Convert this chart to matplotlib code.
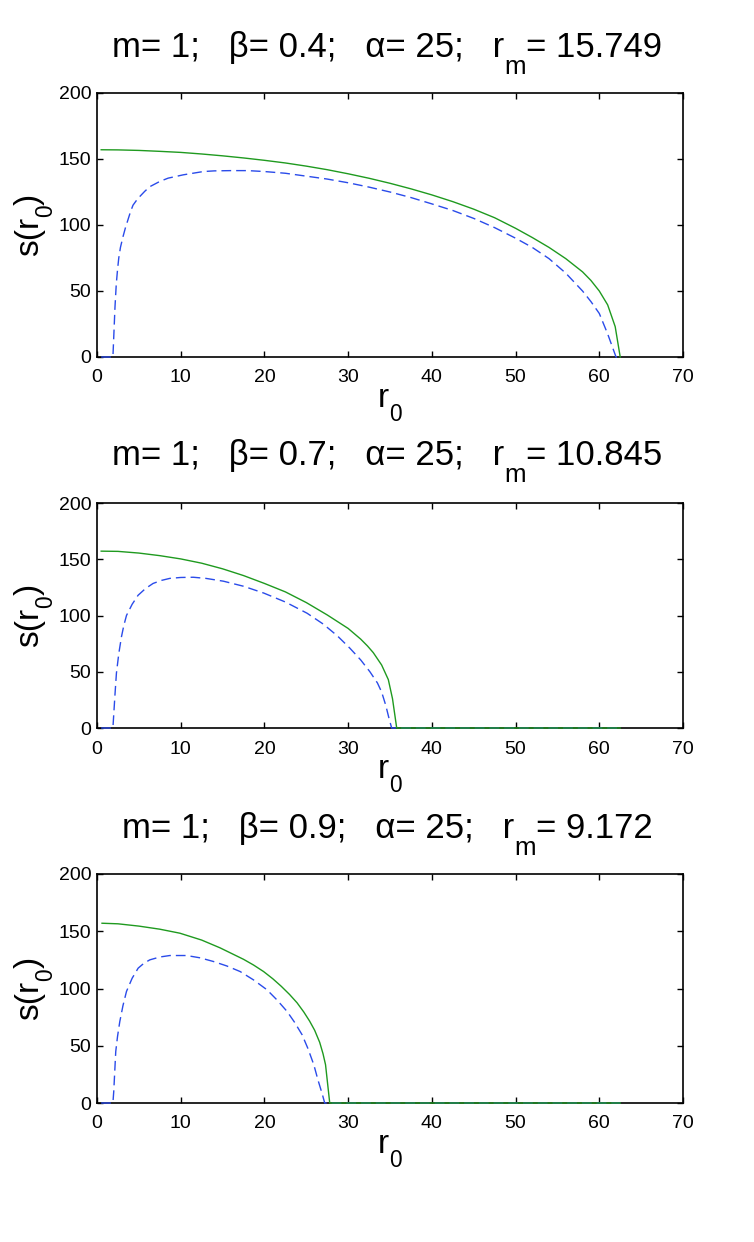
import numpy as np
import matplotlib
matplotlib.use('Agg')
import matplotlib.pyplot as plt

plt.rcParams['font.family'] = ['Liberation Sans', 'DejaVu Sans']

# ---- data ----
betas = [0.4, 0.7, 0.9]
r_m = ['15.749', '10.845', '9.172']

# beta = 0.4
r_g1 = [0.5, 2.5, 5, 7.5, 10, 12.5, 15, 17.5, 20, 22.5, 25, 27.5, 30, 32.5, 35, 37.5, 40, 42.5,
        45, 47.5, 50, 52, 54, 56, 58, 59, 60, 61, 61.9, 62.5]
s_g1 = [157, 156.9, 156.5, 155.8, 155, 153.8, 152.4, 150.8, 149, 147, 144.6, 141.9, 138.8, 135.4,
        131.6, 127.4, 122.8, 117.7, 112, 105.5, 97.5, 90.5, 83, 74.5, 64.5, 58, 50, 39.5, 23, 0]
r_b1 = [0.5, 1.9, 2.0, 2.15, 2.3, 2.45, 2.6, 2.8, 3.1, 3.4, 3.7, 4.0, 4.3, 4.7, 5.1, 5.7, 6.3, 6.9,
        7.5, 8.5, 10.3, 12.7, 14, 16, 18, 20, 22.5, 25, 27.5, 30, 32.5, 35, 37.5, 40, 42.5, 45,
        47.5, 50, 52, 54, 56, 58, 59, 60, 61, 61.6, 62, 62.5]
s_b1 = [0, 0, 15, 38, 55, 66, 75, 83, 91, 98, 104, 110, 115, 118.5, 121.5, 125.5, 129, 131,
        133, 135.5, 138, 140.5, 141, 141.2, 141.2, 140.5, 139.2, 137, 134.8, 132, 128.7, 125,
        120.8, 116, 111, 105, 98, 90, 83, 74.5, 63.5, 50, 42, 33, 17.5, 7, 0, 0]

# beta = 0.7
r_g2 = [0.5, 2.5, 5, 7.5, 10, 12.5, 15, 17.5, 20, 22.5, 25, 27.5, 30, 31.5, 32.3, 33, 34, 34.8,
        35.3, 35.8, 62.5]
s_g2 = [157.2, 157, 155.5, 153.2, 150.3, 146.5, 141.5, 135.5, 128.5, 121, 111.5, 100.5, 88.5,
        79, 73, 67, 56, 43, 26, 0, 0]
r_b2 = [0.5, 1.9, 2.0, 2.15, 2.32, 2.6, 2.92, 3.2, 3.52, 4.2, 4.91, 5.8, 6.7, 7.7, 8.7, 10,
        11.5, 13, 15.1, 17.5, 19.9, 22.5, 25.1, 27, 28.7, 30.2, 31.5, 32.6, 33.5, 34, 34.5,
        34.9, 35.2, 62.5]
s_b2 = [0, 0, 12, 30, 48.7, 66, 81, 91, 100, 110, 118, 124, 128.5, 131.2, 133, 133.8,
        134, 133, 130.5, 126, 120, 112, 102, 92.5, 82, 71, 60.5, 50, 40, 32, 20,
        8, 0, 0]

# beta = 0.9
r_g3 = [0.6, 2.5, 5, 7.5, 9.9, 12.5, 14.7, 17.5, 18.7, 19.9, 21, 22, 23, 23.9, 24.7, 25.4, 26,
        26.6, 27, 27.3, 27.8, 62.5]
s_g3 = [157, 156.5, 154.5, 151.8, 148.3, 142.3, 135.5, 125.5, 120.5, 114.8, 108.5, 102, 94.8,
        87.5, 79.5, 71.5, 63.5, 53, 43, 33.4, 0, 0]
r_b3 = [0.5, 1.9, 2.0, 2.24, 2.45, 2.72, 3.1, 3.52, 4.2, 4.92, 5.6, 6.3, 7.5, 8.7, 10.7, 12.3,
        13.9, 15.5, 17.1, 18.7, 20.3, 21.5, 22.7, 23.6, 24.5, 25.2, 25.9, 26.4, 26.9, 27.2, 62.5]
s_b3 = [0, 0, 10, 45, 58, 71, 85, 97.4, 109, 117.8, 122, 125, 127.5, 128.8, 128.8, 126.8,
        123.6, 119.7, 114.8, 107.5, 98.9, 90, 80, 70.5, 59.6, 47.5, 33.4, 20, 8, 0, 0]

green_r = [r_g1, r_g2, r_g3]
green_s = [s_g1, s_g2, s_g3]
blue_r = [r_b1, r_b2, r_b3]
blue_s = [s_b1, s_b2, s_b3]

xticks = [0, 10, 20, 30, 40, 50, 60, 70]
yticks = [0, 50, 100, 150, 200]

W, H = 754, 1242
fig = plt.figure(figsize=(W / 100, H / 100), dpi=100)

# axes boxes in pixels: left, top, right, bottom
boxes = [(97, 93, 683, 357), (97, 503, 683, 728), (97, 874, 683, 1103)]
title_base = [57, 465, 838]

GREEN = '#1f9a1f'
BLUE = '#2a4bea'
TSIZE = 25
LSIZE = 24


def pieces_text(x, y, pieces, rotation=0):
    # pieces: (string, size, drop in px); y is measured from the top when rotation == 0
    r = fig.canvas.get_renderer()
    widths = []
    for s, sz, d in pieces:
        t = fig.text(0, 0, s, fontsize=sz)
        widths.append(t.get_window_extent(r).width)
        t.remove()
    pos = (x if rotation == 0 else y) - sum(widths) / 2
    for (s, sz, d), w in zip(pieces, widths):
        if rotation == 0:
            fx, fy = pos / W, 1 - (y + d) / H
        else:
            fx, fy = (x + d) / W, pos / H
        fig.text(fx, fy, s, fontsize=sz, ha='left', va='baseline',
                 rotation=rotation, rotation_mode='anchor')
        pos += w


for i in range(3):
    l, t, rr, b = boxes[i]
    ax = fig.add_axes([l / W, 1 - b / H, (rr - l) / W, (b - t) / H])
    ax.plot(blue_r[i], blue_s[i], color=BLUE, lw=1.0, ls=(0, (7, 3.6)), clip_on=False, zorder=3)
    ax.plot(green_r[i], green_s[i], color=GREEN, lw=1.0, clip_on=False, zorder=4)
    ax.set_xlim(0, 70)
    ax.set_ylim(0, 200)
    ax.set_xticks(xticks)
    ax.set_yticks(yticks)
    ax.tick_params(direction='in', length=4, width=1, top=True, right=True, labelsize=14)
    ax.tick_params(axis='x', pad=9)
    ax.tick_params(axis='y', pad=4)
    for sp in ax.spines.values():
        sp.set_linewidth(1.2)

    # title with a lowered subscript, MATLAB style
    pieces_text((l + rr) / 2 - 3, title_base[i],
                [('m= 1;   \u03b2= %.1f;   \u03b1= 25;   r' % betas[i], TSIZE, 0),
                 ('m', TSIZE * 0.75, 17),
                 ('= ' + r_m[i], TSIZE, 0)])
    pieces_text((l + rr) / 2, b + 50, [('r', LSIZE, 0), ('0', LSIZE * 0.68, 14)])
    yc = H - (t + b) / 2
    pieces_text(38, yc, [('s(r', LSIZE, 0), ('0', LSIZE * 0.68, 14), (')', LSIZE, 0)],
                rotation=90)

fig.savefig('out.png', dpi=100)
